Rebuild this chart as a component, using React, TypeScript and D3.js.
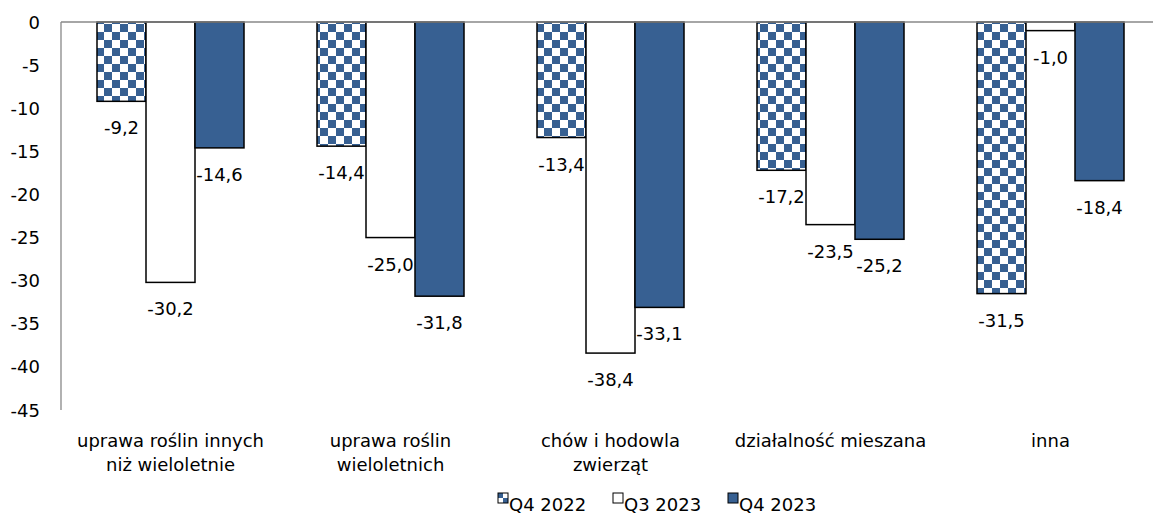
import React from "react";
import * as d3 from "d3";

const categories: string[][] = [
  ["uprawa roślin innych", "niż wieloletnie"],
  ["uprawa roślin", "wieloletnich"],
  ["chów i hodowla", "zwierząt"],
  ["działalność mieszana"],
  ["inna"],
];
const seriesNames = ["Q4 2022", "Q3 2023", "Q4 2023"];
const q4_2022 = [-9.2, -14.4, -13.4, -17.2, -31.5];
const q3_2023 = [-30.2, -25.0, -38.4, -23.5, -1.0];
const q4_2023 = [-14.6, -31.8, -33.1, -25.2, -18.4];
const yTicks = [0, -5, -10, -15, -20, -25, -30, -35, -40, -45];

const W = 1153;
const H = 515;
const BLUE = "#376092";
const FONT = "DejaVu Sans, Verdana, sans-serif";

export default function App() {
  const series = [q4_2022, q3_2023, q4_2023];
  const fills = ["url(#checker)", "#ffffff", BLUE];
  const x0 = d3
    .scaleBand<number>()
    .domain(categories.map((_, i) => i))
    .range([60.5, 1160.5])
    .paddingInner(0)
    .paddingOuter(0);
  const x1 = d3
    .scaleBand<number>()
    .domain([0, 1, 2])
    .range([36.5, 183.5]);
  const y = d3.scaleLinear().domain([-45, 0]).range([410, 22]);
  const fmt = (v: number) => v.toFixed(1).replace(".", ",");

  const legendX = [498, 613, 728];

  return (
    <svg
      width={W}
      height={H}
      style={{ position: "absolute", left: 0, top: 0, background: "#fff" }}
      fontFamily={FONT}
    >
      <defs>
        <pattern id="checker" width={16} height={16} patternUnits="userSpaceOnUse">
          <rect x={0} y={0} width={16} height={16} fill="#ffffff" />
          <rect x={0} y={0} width={8} height={8} fill={BLUE} />
          <rect x={8} y={8} width={8} height={8} fill={BLUE} />
        </pattern>
        <pattern id="checkerSmall" width={10} height={10} patternUnits="userSpaceOnUse" x={498} y={493}>
          <rect x={0} y={0} width={10} height={10} fill="#ffffff" />
          <rect x={0} y={0} width={5} height={5} fill={BLUE} />
          <rect x={5} y={5} width={5} height={5} fill={BLUE} />
        </pattern>
      </defs>

      {/* y axis line */}
      <line x1={61} x2={61} y1={y(0)} y2={y(-45)} stroke="#888" strokeWidth={1.3} />

      {/* y tick labels */}
      {yTicks.map((t) => (
        <text
          key={t}
          x={40}
          y={y(t)}
          textAnchor="end"
          dominantBaseline="central"
          fontSize={18}
          fill="#000"
        >
          {t}
        </text>
      ))}

      {/* bars */}
      {categories.map((_, ci) =>
        series.map((s, si) => {
          const v = s[ci];
          const bx = (x0(ci) as number) + (x1(si) as number);
          const bw = x1.bandwidth();
          const y0 = y(0);
          const y1v = y(v);
          return (
            <g key={`${ci}-${si}`}>
              <rect
                x={bx}
                y={y0}
                width={bw}
                height={y1v - y0}
                fill={fills[si]}
                stroke="#000"
                strokeWidth={1.5}
              />
              <text
                x={bx + bw / 2}
                y={y1v + 26.5}
                textAnchor="middle"
                dominantBaseline="central"
                fontSize={18}
                fill="#000"
              >
                {fmt(v)}
              </text>
            </g>
          );
        })
      )}

      {/* zero line */}
      <line x1={61} x2={W} y1={y(0)} y2={y(0)} stroke="#888" strokeWidth={1.5} />

      {/* category labels */}
      {categories.map((lines, ci) => (
        <text
          key={ci}
          x={(x0(ci) as number) + x0.bandwidth() / 2}
          y={447}
          textAnchor="middle"
          fontSize={18}
          fill="#000"
        >
          {lines.map((l, li) => (
            <tspan key={li} x={(x0(ci) as number) + x0.bandwidth() / 2} dy={li === 0 ? 0 : 24}>
              {l}
            </tspan>
          ))}
        </text>
      ))}

      {/* legend */}
      {seriesNames.map((n, i) => (
        <g key={n}>
          <rect
            x={legendX[i]}
            y={493}
            width={10}
            height={10}
            fill={i === 0 ? "url(#checkerSmall)" : fills[i]}
            stroke="#000"
            strokeWidth={1}
          />
          <text x={legendX[i] + 11} y={504} fontSize={18} dominantBaseline="central" fill="#000">
            {n}
          </text>
        </g>
      ))}
    </svg>
  );
}
